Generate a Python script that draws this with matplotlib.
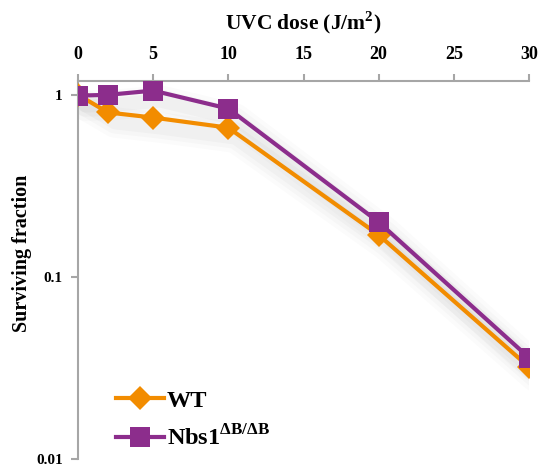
import matplotlib
matplotlib.use('Agg')
import matplotlib.pyplot as plt
import matplotlib.transforms as mtransforms
import numpy as np

# Survival after UVC exposure
dose = [0, 2, 5, 10, 20, 30]
wt = [1.0, 0.80, 0.75, 0.66, 0.17, 0.032]
nbs1 = [0.99, 1.0, 1.055, 0.84, 0.20, 0.036]

x_ticks = [0, 5, 10, 15, 20, 25, 30]
y_ticks = [0.01, 0.1, 1]
y_tick_labels = ['0.01', '0.1', '1']

orange = '#F28C00'
purple = '#8C2D8C'
grey = '#A6A6A6'

plt.rcParams['font.family'] = 'Liberation Serif'
plt.rcParams['font.weight'] = 'bold'
plt.rcParams['mathtext.fontset'] = 'custom'
plt.rcParams['mathtext.rm'] = 'Liberation Serif:bold'
plt.rcParams['mathtext.bf'] = 'Liberation Serif:bold'

fig = plt.figure(figsize=(5.47, 4.66), dpi=100)
ax = fig.add_axes([0.1426, 0.015, 0.8245, 0.811])

# soft drop shadow under the curves
for ys in (wt, nbs1):
    for lw, a in ((22, 0.015), (16, 0.02), (10, 0.025)):
        tr = mtransforms.offset_copy(ax.transData, fig=fig, x=7, y=-10, units='dots')
        ax.plot(dose, ys, color='black', lw=lw, alpha=a, transform=tr,
                solid_capstyle='round', solid_joinstyle='round', zorder=1)

ax.plot(dose, wt, color=orange, lw=3, marker='D', markersize=12,
        markeredgewidth=0, label='WT', zorder=3)
ax.plot(dose, nbs1, color=purple, lw=3, marker='s', markersize=15,
        markeredgewidth=0, label=r'Nbs1$^{\mathrm{\Delta B/\Delta B}}$', zorder=4)

ax.set_yscale('log')
ax.set_xlim(0, 30)
ax.set_ylim(0.01, 1.19)
ax.set_xticks(x_ticks)
ax.set_yticks(y_ticks)
ax.set_yticklabels(y_tick_labels, va='center_baseline')
ax.minorticks_off()

ax.xaxis.tick_top()
ax.xaxis.set_label_position('top')
ax.set_xlabel('UVC dose (J/m$^\\mathrm{2}$)', fontsize=15.5, fontweight='bold', labelpad=12)

for side in ('right', 'bottom'):
    ax.spines[side].set_visible(False)
for side in ('top', 'left'):
    ax.spines[side].set_color(grey)
    ax.spines[side].set_linewidth(1.5)

ax.tick_params(axis='x', direction='out', length=5, width=1.5, color=grey,
               labelsize=13, pad=8)
ax.tick_params(axis='y', direction='out', length=5, width=1.5, color=grey,
               labelsize=11, pad=6)

fig.text(22 / 547, 1 - 253 / 466, 'Surviving fraction', rotation=90,
         ha='center', va='center', fontsize=14.5, fontweight='bold')

ax.legend(loc='lower left', bbox_to_anchor=(0.035, -0.035), frameon=False,
          fontsize=17.5, handlelength=2.0, handletextpad=0.1, labelspacing=0.55)

fig.savefig('out.png', dpi=100)
